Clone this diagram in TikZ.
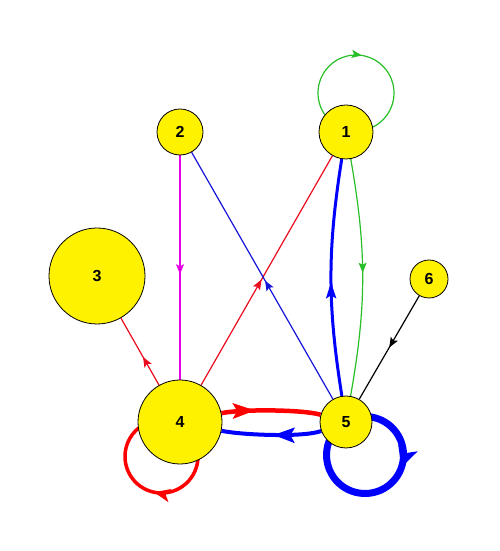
\documentclass[tikz,border=0pt]{standalone}
\usepackage{fontspec}
\setmainfont{Liberation Sans}
\usetikzlibrary{arrows.meta,decorations.markings,backgrounds}
\definecolor{egreen}{RGB}{40,190,40}
\definecolor{emagenta}{RGB}{230,0,230}
\definecolor{eblue}{RGB}{20,20,220}
\definecolor{ered}{RGB}{235,10,30}

\begin{document}
\begin{tikzpicture}[x=1pt, y=1pt,
  vtx/.style={draw, circle, fill=yellow, line width=0.8pt, inner sep=0pt,
    font=\fontsize{16}{16}\selectfont\bfseries},
  arrowat/.style={postaction={decorate, decoration={markings,
    mark=at position #1 with {\arrow{>}}}}},
  thinedge/.style={line width=1.2pt, >={Stealth[length=10pt,width=8pt,inset=2pt]}}]
  \useasboundingbox (0,0) rectangle (500,551);

  \node (V1) [vtx, minimum size=54pt] at (346,419) {1};
  \node (V2) [vtx, minimum size=46pt] at (180,419) {2};
  \node (V3) [vtx, minimum size=96pt] at (97,275) {3};
  \node (V4) [vtx, minimum size=84pt] at (180,129) {4};
  \node (V5) [vtx, minimum size=52pt] at (346,129) {5};
  \node (V6) [vtx, minimum size=38pt] at (429,272) {6};

  \begin{scope}[on background layer]
    % thin edges
    \draw[thinedge, emagenta, arrowat=0.53] (V2) -- (V4);
    \draw[thinedge, ered, arrowat=0.46] (V4) -- (V1);
    \draw[thinedge, eblue, arrowat=0.48] (V5) -- (V2);
    \draw[thinedge, ered, arrowat=0.42] (V4) -- (V3);
    \draw[thinedge, black, arrowat=0.5] (V6) -- (V5);
    \draw[thinedge, egreen, arrowat=0.48] (V1) to[bend left=10] (V5);
    \draw[thinedge, egreen, arrowat=0.48] (V1) ++(10,39) ++(230:38)
      arc[start angle=230, delta angle=-310, radius=38];
    % thick edges
    \draw[line width=3pt, blue, >={Stealth[length=16pt,width=10pt,inset=3pt]}, arrowat=0.48]
      (V5) to[bend left=9] (V1);
    \draw[line width=4.5pt, red, >={Stealth[length=22pt,width=15pt,inset=4pt]}, arrowat=0.34]
      (V4) to[out=12, in=164, looseness=0.5] (V5);
    \draw[line width=4pt, blue, >={Stealth[length=21pt,width=15pt,inset=4pt]}, arrowat=0.48]
      (V5) to[out=200, in=-12, looseness=0.5] (V4);
    % loops
    \draw[line width=3.5pt, red, >={Stealth[length=16pt,width=13pt,inset=4pt]}, arrowat=0.54]
      (V4) ++(-18.5,-34.5) ++(60:36.5) arc[start angle=60, delta angle=-300, radius=36.5];
    \draw[line width=7pt, blue, >={Stealth[length=20pt,width=20pt,inset=5pt]}, arrowat=0.42]
      (V5) ++(19,-33) ++(120:38.5) arc[start angle=120, delta angle=-330, radius=38.5];
  \end{scope}
\end{tikzpicture}
\end{document}
